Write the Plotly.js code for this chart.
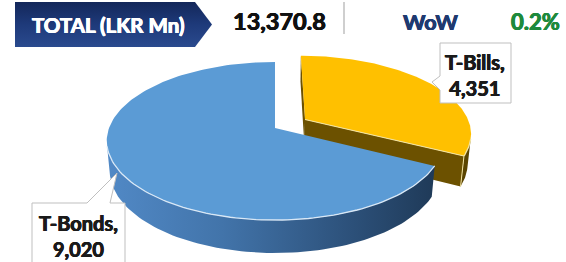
<!DOCTYPE html>
<html><head><meta charset="utf-8">
<script src="https://cdn.plot.ly/plotly-3.0.1.min.js"></script>
<style>html,body{margin:0;padding:0;background:#fff;}#chart{width:566px;height:262px;}</style>
</head><body><div id="chart"></div>
<script>
// ---- data ----
const categories = ['T-Bills', 'T-Bonds'];
const values = [4351, 9020];
const totalLabel = 'TOTAL (LKR Mn)';
const totalValue = 13370.8;
const wowLabel = 'WoW';
const wowValue = 0.2;

// ---- style ----
const topColors = ['#ffc000', '#5b9bd5'];
const faceColors = ['#6c5100', '#2f5785'];
const edgeColors = ['#f3e3a0', '#d9e8f6'];
const explode = [0.216, 0];
const FONT = 'Lato, "Open Sans", sans-serif';
const thick = c => `0.45px 0 0 ${c}, -0.45px 0 0 ${c}, 0 0.3px 0 ${c}`;

// projection of a tilted disk (3D look), in pixel units
const CX = 275, CY = 128, F = 893, D = 5.38, SA = 0.4633, CA = Math.sqrt(1 - SA * SA), TH = 0.202;
function proj(u, h, w) {
  const depth = D - h * SA - w * CA;
  const up = h * CA - w * SA;
  return [CX + F * u / depth, CY - F * up / depth];
}

const total = values.reduce((a, b) => a + b, 0);
let cum = 0;
const slices = values.map((v, i) => {
  const a = cum / total * 2 * Math.PI; cum += v;
  const b = cum / total * 2 * Math.PI;
  const mid = (a + b) / 2;
  return { i, a, b, ou: explode[i] * Math.sin(mid), ow: -explode[i] * Math.cos(mid) };
});
const rim = (s, t, h) => proj(s.ou + Math.sin(t), h, s.ow - Math.cos(t));
const apex = (s, h) => proj(s.ou, h, s.ow);

function poly(pts, fill, extra) {
  return Object.assign({
    type: 'scatter', mode: 'lines', x: pts.map(p => p[0]), y: pts.map(p => p[1]),
    fill: 'toself', fillcolor: fill, line: { width: 0 }, hoverinfo: 'skip', showlegend: false
  }, extra || {});
}
function line(pts, color, w) {
  return { type: 'scatter', mode: 'lines', x: pts.map(p => p[0]), y: pts.map(p => p[1]),
    line: { color, width: w }, hoverinfo: 'skip', showlegend: false };
}

const N = 160;
const traces = [];
[0, 1].forEach(k => {
  const s = slices[k];
  const DC = D * CA;
  if (-(Math.cos(s.a) * (-s.ou) + Math.sin(s.a) * (DC - s.ow)) > 0.01) {
    traces.push(poly([apex(s, 0), rim(s, s.a, 0), rim(s, s.a, -TH), apex(s, -TH)], faceColors[k]));
  }
  if (Math.cos(s.b) * (-s.ou) + Math.sin(s.b) * (DC - s.ow) > 0.01) {
    traces.push(poly([apex(s, 0), rim(s, s.b, 0), rim(s, s.b, -TH), apex(s, -TH)], faceColors[k]));
  }
  const vis = [];
  for (let j = 0; j <= N; j++) {
    const t = s.a + (s.b - s.a) * j / N;
    if (-s.ou * Math.sin(t) - 1 - Math.cos(t) * (DC - s.ow) > 0) vis.push(t);
  }
  let sideTop = [];
  if (vis.length > 1) {
    sideTop = vis.map(t => rim(s, t, 0));
    const sideBot = vis.slice().reverse().map(t => rim(s, t, -TH));
    const extra = k === 1 ? { fillgradient: { type: 'horizontal', colorscale: [[0, '#5189c6'], [0.35, '#4274aa'], [0.75, '#2c5079'], [1, '#1f3a58']] } } : {};
    traces.push(poly(sideTop.concat(sideBot), k === 1 ? '#3b6a9c' : '#5a4400', extra));
  }
  const top = [apex(s, 0)];
  for (let j = 0; j <= N; j++) top.push(rim(s, s.a + (s.b - s.a) * j / N, 0));
  top.push(apex(s, 0));
  traces.push(poly(top, topColors[k]));
  if (sideTop.length > 1) traces.push(line(sideTop, edgeColors[k], 1.3));
  if (k === 0) {
    traces.push(line([apex(s, 0), rim(s, s.b, 0)], edgeColors[k], 1.2));
    traces.push(line([rim(s, s.b, 0), rim(s, s.b, -TH)], edgeColors[k], 1));
  }
});

// header banner (decorative)
const banner = [[15, 2], [195, 2], [212, 24.5], [195, 47], [15, 47], [15, 2]];
traces.unshift(poly(banner, '#1c3775', { fillgradient: { type: 'vertical', colorscale: [[0, '#2a4a8e'], [0.5, '#1e3a7a'], [1, '#13275a']] } }));

const annotations = [
  { x: 108, y: 25, text: '<b>' + totalLabel + '</b>', font: { family: FONT, size: 20.5, color: '#ffffff', shadow: thick('#ffffff') } },
  { x: 279, y: 21, text: '<b>' + totalValue.toLocaleString('en-US', { minimumFractionDigits: 1 }) + '</b>', font: { family: FONT, size: 23.5, color: '#111111', shadow: thick('#111111') } },
  { x: 430, y: 22, text: '<b>' + wowLabel + '</b>', font: { family: FONT, size: 21.5, color: '#1f3a70', shadow: thick('#1f3a70') } },
  { x: 535, y: 21, text: '<b>' + wowValue.toFixed(1) + '%</b>', font: { family: FONT, size: 22, color: '#1e8a3c', shadow: thick('#1e8a3c') } },
  { x: 475, y: 75, text: '<b>' + categories[0] + ',<br>' + values[0].toLocaleString('en-US') + '</b>', font: { family: FONT, size: 20, color: '#1a1a1a', shadow: thick('#1a1a1a') } },
  { x: 78, y: 236, text: '<b>' + categories[1] + ',<br>' + values[1].toLocaleString('en-US') + '</b>', font: { family: FONT, size: 20, color: '#1a1a1a', shadow: thick('#1a1a1a') } }
].map(a => Object.assign({ xref: 'x', yref: 'y', showarrow: false, xanchor: 'center', yanchor: 'middle' }, a));

const shapes = [
  { type: 'line', xref: 'x', yref: 'y', x0: 344, x1: 344, y0: 2, y1: 34, line: { color: '#bfbfbf', width: 1.5 } },
  { type: 'path', xref: 'x', yref: 'y', path: 'M440,43 L511,43 L511,103 L440,103 L440,90 L432,82 L440,76 Z', fillcolor: '#ffffff', line: { color: '#bfbfbf', width: 1 }, layer: 'above' },
  { type: 'path', xref: 'x', yref: 'y', path: 'M32,203 L87,203 L117,173 L110,203 L125,203 L125,270 L32,270 Z', fillcolor: '#ffffff', line: { color: '#bfbfbf', width: 1 }, layer: 'above' }
];

const layout = {
  width: 566, height: 262, margin: { l: 0, r: 0, t: 0, b: 0 },
  paper_bgcolor: '#ffffff', plot_bgcolor: '#ffffff', showlegend: false,
  xaxis: { range: [0, 566], visible: false, fixedrange: true },
  yaxis: { range: [262, 0], visible: false, fixedrange: true },
  shapes, annotations
};
Plotly.newPlot('chart', traces, layout, { staticPlot: true, displayModeBar: false });
</script>
</body></html>
